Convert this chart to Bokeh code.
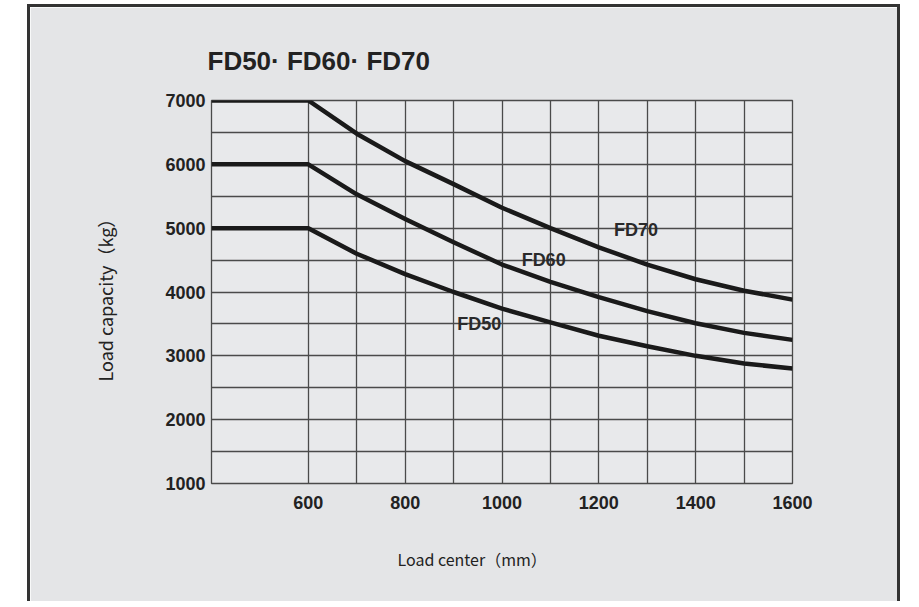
from bokeh.plotting import figure
from bokeh.models import FixedTicker, Title
from bokeh.embed import file_html
from bokeh.resources import INLINE
from bokeh.core.properties import value

# ---- data ----
load_center = [400, 600, 700, 800, 900, 1000, 1100, 1200, 1300, 1400, 1500, 1600]
fd70 = [7000, 7000, 6480, 6050, 5690, 5320, 5000, 4700, 4430, 4200, 4020, 3880]
fd60 = [6000, 6000, 5530, 5145, 4780, 4430, 4160, 3920, 3700, 3510, 3360, 3250]
fd50 = [5000, 5000, 4600, 4280, 4000, 3740, 3525, 3315, 3150, 3000, 2880, 2800]
series_names = ["FD70", "FD60", "FD50"]

x_tick_labels = [600, 800, 1000, 1200, 1400, 1600]
y_tick_labels = [1000, 2000, 3000, 4000, 5000, 6000, 7000]
x_grid_values = [600, 700, 800, 900, 1000, 1100, 1200, 1300, 1400, 1500, 1600]
y_grid_values = [1000, 1500, 2000, 2500, 3000, 3500, 4000, 4500, 5000, 5500, 6000, 6500, 7000]

title_text = "FD50· FD60· FD70"
x_title = "Load center（mm）"
y_title = "Load capacity（kg）"

# curve label anchor points (data coords)
label_x = [1277, 1086, 953]
label_y = [4970, 4500, 3500]

INK = "#1a1a1a"
GRID = "#4a4a4a"

p = figure(width=873, height=597, x_range=(400, 1600), y_range=(1000, 7000),
           output_backend="svg", toolbar_location=None,
           min_border_left=181, min_border_right=111,
           min_border_top=93, min_border_bottom=121)

p.styles = {"margin-left": "27px", "margin-top": "4px",
            "border-style": "solid", "border-color": "#333333",
            "border-width": "3px 3px 0px 3px"}

p.border_fill_color = "#e4e5e7"
p.background_fill_color = "#e8e9eb"
p.outline_line_color = GRID
p.outline_line_width = 1.3

p.xaxis.ticker = FixedTicker(ticks=x_tick_labels)
p.yaxis.ticker = FixedTicker(ticks=y_tick_labels)
p.xgrid.ticker = FixedTicker(ticks=x_grid_values)
p.ygrid.ticker = FixedTicker(ticks=y_grid_values)
for g in (p.xgrid, p.ygrid):
    g.grid_line_color = GRID
    g.grid_line_width = 1.3
    g.grid_line_alpha = 1.0

for ax in (p.xaxis, p.yaxis):
    ax.axis_line_color = None
    ax.major_tick_line_color = None
    ax.minor_tick_line_color = None
    ax.major_label_text_font = "Liberation Sans"
    ax.major_label_text_font_style = "bold"
    ax.major_label_text_font_size = "18px"
    ax.major_label_text_color = "#222222"
p.xaxis.major_label_standoff = 6
p.yaxis.major_label_standoff = 0

for ys in [fd70, fd60, fd50]:
    p.line(load_center, ys, line_width=4.5, line_color=INK, line_join="round")

p.text(x=label_x, y=label_y, text=series_names,
       text_font=value("Liberation Sans"), text_font_style="bold",
       text_font_size="18px", text_color="#2a2a2a",
       text_align="center", text_baseline="middle")

p.title.text = title_text
p.title.align = "left"
p.title.offset = -4
p.title.standoff = 50
p.title.text_font = "Liberation Sans"
p.title.text_font_style = "bold"
p.title.text_font_size = "26px"
p.title.text_color = "#222222"

p.add_layout(Title(text=y_title, align="left", offset=102, standoff=90,
                   text_font="Noto Sans CJK SC", text_font_style="normal",
                   text_font_size="18px", text_color="#222222"), "left")
p.add_layout(Title(text=x_title, align="left", offset=186, standoff=66,
                   text_font="Noto Sans CJK SC", text_font_style="normal",
                   text_font_size="16px", text_color="#222222"), "below")

open("out.html", "w").write(file_html(p, INLINE))
